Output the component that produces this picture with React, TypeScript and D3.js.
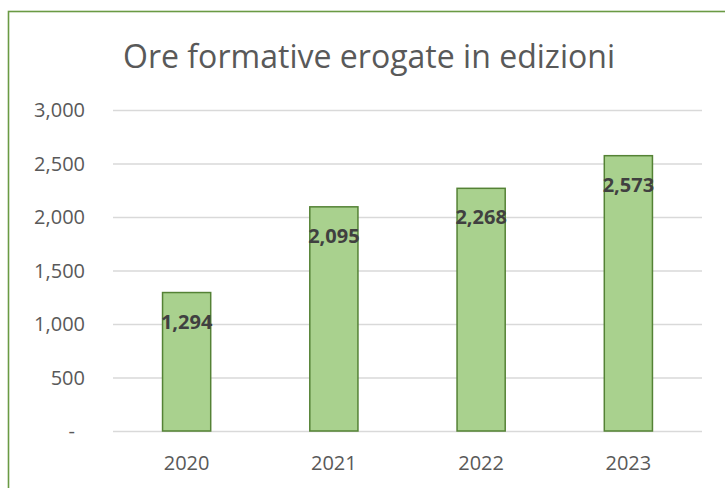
import React from 'react';
import * as d3 from 'd3';

const years = ['2020', '2021', '2022', '2023'];
const hours = [1294, 2095, 2268, 2573];
const yTicks = [0, 500, 1000, 1500, 2000, 2500, 3000];
const title = 'Ore formative erogate in edizioni';

const width = 725;
const height = 488;
const font = '"Open Sans", "DejaVu Sans", sans-serif';

const App: React.FC = () => {
    const x = d3.scaleBand<string>()
        .domain(years)
        .range([113, 702])
        .paddingInner(0.673)
        .paddingOuter(0.3365);

    const y = d3.scaleLinear()
        .domain([0, 3000])
        .range([431, 110]);

    const fmt = d3.format(',');

    return (
        <svg width={width} height={height} style={{ position: 'absolute', left: 0, top: 0 }}>
            <rect x={0} y={0} width={width} height={height} fill="white" />
            {/* outer frame, runs off the right and bottom edges */}
            <rect x={8.5} y={11.5} width={800} height={600} fill="none" stroke="#6a9a44" strokeWidth={1.6} />

            <text x={369} y={68} textAnchor="middle" fontFamily={font} fontSize={33}
                fill="#595959" textLength={492} lengthAdjust="spacingAndGlyphs">
                {title}
            </text>

            {yTicks.map(t => (
                <g key={t}>
                    <line x1={113} x2={702} y1={y(t) + 0.5} y2={y(t) + 0.5} stroke="#d9d9d9" strokeWidth={1.3} />
                    <text x={t === 0 ? 75 : 85} y={y(t)} dy="0.36em" textAnchor="end"
                        fontFamily={font} fontSize={20} fill="#595959">
                        {t === 0 ? '-' : fmt(t)}
                    </text>
                </g>
            ))}

            {years.map((yr, i) => (
                <g key={yr}>
                    <rect x={x(yr)!} y={y(hours[i])} width={x.bandwidth()} height={y(0) - y(hours[i])}
                        fill="#a9d18e" stroke="#548235" strokeWidth={1.5} />
                    <text x={x(yr)! + x.bandwidth() / 2} y={y(hours[i]) + 36} textAnchor="middle"
                        fontFamily={font} fontSize={20} fontWeight="bold" fill="#404040">
                        {fmt(hours[i])}
                    </text>
                    <text x={x(yr)! + x.bandwidth() / 2} y={470} textAnchor="middle"
                        fontFamily={font} fontSize={20} fill="#595959">
                        {yr}
                    </text>
                </g>
            ))}
        </svg>
    );
};

export default App;
